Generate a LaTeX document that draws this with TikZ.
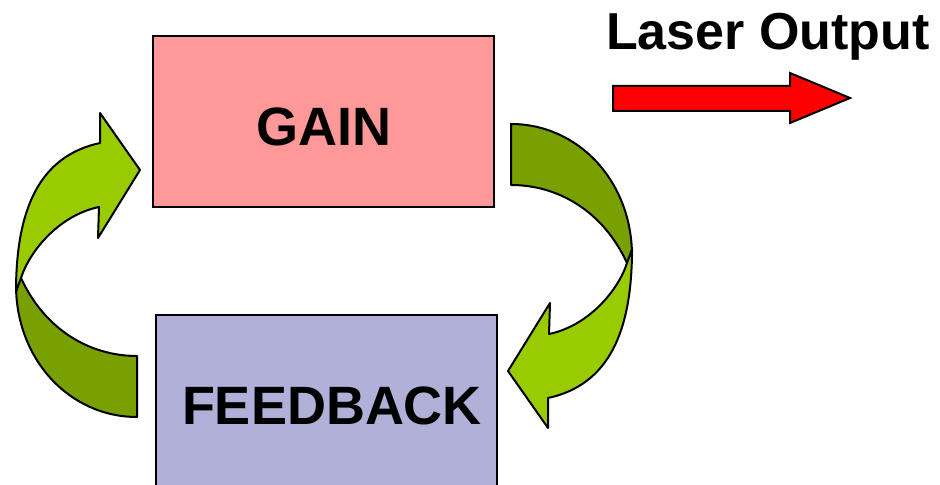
\documentclass[tikz,border=0pt]{standalone}
\usepackage{fontspec}
\setmainfont{Liberation Sans}
\usetikzlibrary{positioning}
\definecolor{cGain}{RGB}{255,153,153}
\definecolor{cFeed}{RGB}{176,176,216}
\definecolor{cLeaf}{RGB}{153,204,0}
\definecolor{cLeafDark}{RGB}{120,160,0}
\tikzset{
	block/.style    ={rectangle, draw=black, line width=1pt, minimum width=170.5pt, minimum height=85.5pt, text height=24.5pt, align=center, font=\fontsize{27}{32}\selectfont\bfseries},
	tag/.style      ={font=\fontsize{26}{31}\selectfont\bfseries, inner sep=0pt},
	bandback/.style ={draw=black, line width=1pt, line join=round, fill=cLeafDark},
	bandfront/.style={draw=black, line width=1pt, line join=round, fill=cLeaf},
	outarrow/.style ={draw=black, line width=1pt, fill=red},
	% curved loop arrow, back half first, then the front half with its head
	bentarrow/.pic={
		\draw[bandback] (137,417) .. controls (70,417) and (16,360) .. (16,285) -- (21,278)
			.. controls (45,330) and (90,356) .. (137,356) -- cycle;
		\draw[bandfront] (16,292) .. controls (16,208) and (40,156) .. (100,143) -- (100,113) -- (140,170)
			-- (98,238) -- (99,207) .. controls (60,215) and (30,250) .. (21,278) -- cycle;
	},
}

\begin{document}
\begin{tikzpicture}[x=0.5pt, y=-0.5pt]
	\path[use as bounding box] (0,0) rectangle (940,485);
	\clip (0,0) rectangle (940,485);
	% the two blocks
	\node[block, fill=cGain] (gain) at (323.5,121.5) {GAIN};
	\node[block, fill=cFeed] (feedback) at (326,400.5) {\hspace{6pt}FEEDBACK};
	% loop arrows between them
	\pic (loopL) at (0,0) {bentarrow};
	\pic[rotate=180] (loopR) at (648,541) {bentarrow};
	% output
	\node[tag, anchor=base] (outlabel) at (768,50) {Laser Output};
	\draw[outarrow] (613,86) -- (790,86) -- (790,73) -- (850,98) -- (790,123) -- (790,111) -- (613,111) -- cycle;
\end{tikzpicture}
\end{document}
